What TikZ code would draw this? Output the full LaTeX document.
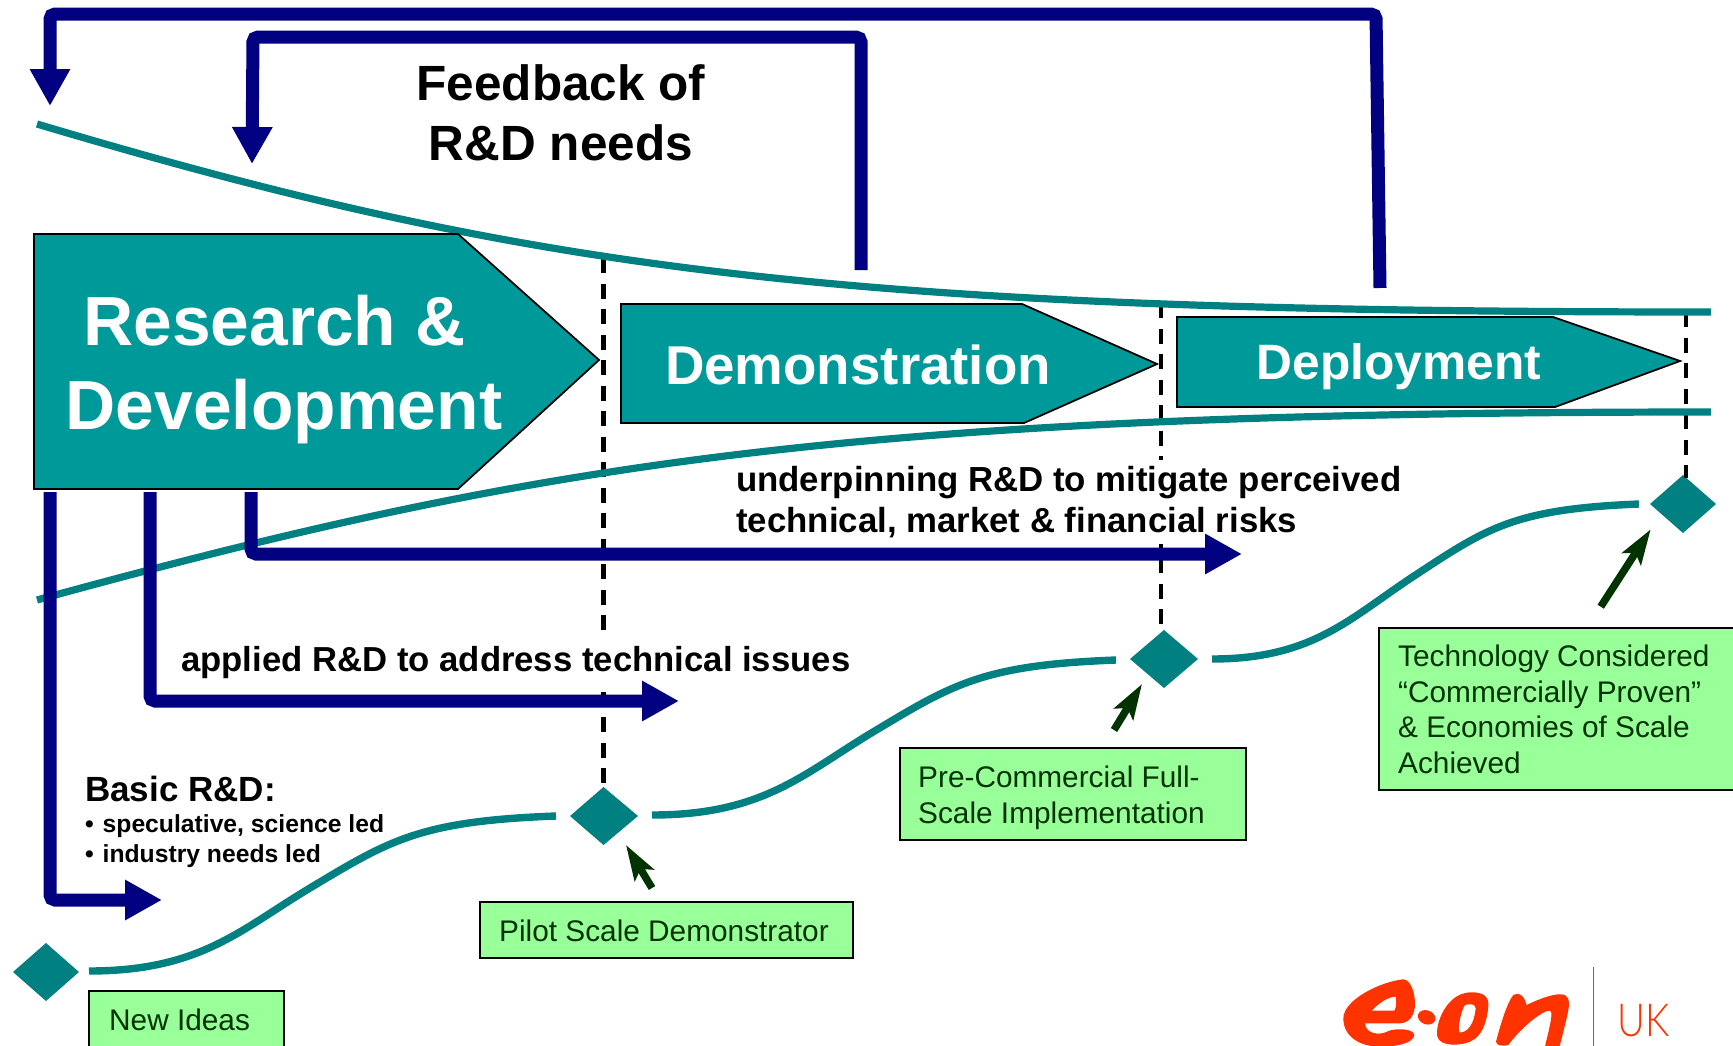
\documentclass[tikz,border=0pt]{standalone}
\usepackage{fontspec}
\usepackage{graphicx}
\setmainfont{Liberation Sans}
\newfontfamily\ukfont[UprightFont={* Light}]{Lato}
\usetikzlibrary{arrows.meta}
\definecolor{bluearrow}{HTML}{000080}
\definecolor{tealline}{HTML}{008080}
\definecolor{tealfill}{HTML}{009999}
\definecolor{boxgreen}{HTML}{99FF99}
\definecolor{darkgreen}{HTML}{003300}
\definecolor{eonred}{HTML}{FF3300}
\tikzset{
 bluepath/.style={draw=bluearrow,line width=13pt,rounded corners=5pt,-{Triangle[length=37pt,width=38pt]}},
 funnel/.style={draw=tealline,line width=7.2pt},
 scurve/.style={draw=tealline,line width=7.4pt},
 stagedash/.style={draw=black,line width=4.2pt,dash pattern=on 15pt off 10.5pt},
 stagebox/.style={draw=black,line width=1.8pt,fill=tealfill},
 milestone/.style={fill=tealline},
 pointer/.style={draw=darkgreen,line width=7.5pt,-{Stealth[length=35pt,width=22pt,inset=7pt]}},
 greenbox/.style={draw=black,line width=1.8pt,fill=boxgreen},
 boxtext/.style={anchor=west,inner sep=0pt,align=left,text=darkgreen,font=\fontsize{29.8}{35.6}\selectfont},
 stagetext/.style={inner sep=0pt,align=center,text=white,font=\bfseries},
 blacktext/.style={inner sep=0pt,align=left,text=black,font=\bfseries},
}
\begin{document}
\begin{tikzpicture}[x=1pt,y=-1pt]
\clip (0,0) rectangle (1733,1045);
\fill[white] (0,0) rectangle (1733,1045);
% named ends
\coordinate (fbAstart) at (1380,288);
\coordinate (fbAtip) at (50,106);
\coordinate (fbBstart) at (861,270);
\coordinate (fbBtip) at (252,164);
\coordinate (rdA) at (50,492);
\coordinate (rdAtip) at (162,900);
\coordinate (rdB) at (150,492);
\coordinate (rdBtip) at (679,701);
\coordinate (rdC) at (251,492);
\coordinate (rdCtip) at (1242,554);
\coordinate (upT) at (37,124);
\coordinate (upE) at (1711,312);
\coordinate (loT) at (37,600);
\coordinate (loE) at (1711,412);
\coordinate (d1t) at (603.5,258);
\coordinate (d2t) at (1161,303);
\coordinate (d3t) at (1686,312);
% milestones
\path[milestone] (13,972) -- (46,943) -- (79,972) -- (46,1001) -- cycle;
\path[milestone] (570,816) -- (603.5,787) -- (638,816) -- (603.5,845) -- cycle;
\path[milestone] (1130,659) -- (1164,630) -- (1198,659) -- (1164,688) -- cycle;
\path[milestone] (1650,504) -- (1683,475) -- (1716,504) -- (1683,533) -- cycle;
\coordinate (d1) at (603.5,787);
\coordinate (d2) at (1161,630);
\coordinate (d3) at (1686,478);
% dashed
\draw[stagedash] (d1t) -- (d1);
\draw[stagedash] (d2t) -- (d2);
\draw[stagedash] (d3t) -- (d3);
% funnel
\draw[funnel] (upT) .. controls (540,274) and (850,312) .. (upE);
\draw[funnel] (loT) .. controls (540,462) and (850,412) .. (loE);
% stage arrows
\draw[stagebox] (34,234) -- (458,234) -- (599,360) -- (458,489) -- (34,489) -- cycle;
\draw[stagebox] (621,304) -- (1022,304) -- (1157,364) -- (1024,423) -- (621,423) -- cycle;
\draw[stagebox] (1177,317) -- (1553,317) -- (1680,361) -- (1555,407) -- (1177,407) -- cycle;
\node[stagetext,font=\bfseries\fontsize{69.5}{84}\selectfont] (rdtext) at (284,370) {Research \&\rule{19pt}{0pt}\\Development};
\node[stagetext,font=\bfseries\fontsize{54.7}{60}\selectfont] (demotext) at (858,365) {Demonstration};
\node[stagetext,font=\bfseries\fontsize{49.7}{60}\selectfont] (deptext) at (1399,367) {Deployment};
% s curves
\draw[scurve] (89,971) .. controls (200,971) and (240,930) .. (310,888) .. controls (390,840) and (420,821) .. (556,816);
\draw[scurve] (652,815) .. controls (763,815) and (803,774) .. (873,732) .. controls (953,684) and (983,665) .. (1116,660);
\draw[scurve] (1212,659) .. controls (1313,659) and (1350,618) .. (1414,576) .. controls (1487,528) and (1514,509) .. (1639,504);
% these two texts lie on white boxes over the dashed lines
\node[blacktext,anchor=west,fill=white,inner ysep=6pt,font=\bfseries\fontsize{34.8}{41}\selectfont] (under) at (736,502) {underpinning R\&D to mitigate perceived\\technical, market \& financial risks};
\node[blacktext,anchor=west,fill=white,inner ysep=12pt,font=\bfseries\fontsize{34.7}{41}\selectfont] (applied) at (181,663) {applied R\&D to address technical issues};
% blue arrows
\draw[bluepath] (fbAstart) -- (1376,14) -- (50,14) -- (fbAtip);
\draw[bluepath] (fbBstart) -- (861,37) -- (253,37) -- (fbBtip);
\draw[bluepath] (rdA) -- (50,900) -- (rdAtip);
\draw[bluepath] (rdB) -- (150,701) -- (rdBtip);
\draw[bluepath] (rdC) -- (251,554) -- (rdCtip);
% pointers
\coordinate (p1s) at (652,888); \coordinate (p1t) at (626,845);
\coordinate (p2s) at (1114,730); \coordinate (p2t) at (1142,684);
\coordinate (p3s) at (1600.7,606.7); \coordinate (p3t) at (1650.7,529.3);
\draw[pointer] (p1s) -- (p1t);
\draw[pointer] (p2s) -- (p2t);
\draw[pointer] (p3s) -- (p3t);
% green boxes
\draw[greenbox] (89,991) rectangle (284,1070);
\node[boxtext] (newideas) at (109,1020) {New Ideas};
\draw[greenbox] (480,902) rectangle (853,958);
\node[boxtext] (pilot) at (499,931) {Pilot Scale Demonstrator};
\draw[greenbox] (900,748) rectangle (1246,840);
\node[boxtext] (precom) at (918,798) {Pre-Commercial Full-\\Scale Implementation};
\draw[greenbox] (1379,628) rectangle (1750,790);
\node[boxtext] (tech) at (1398,709.5) {Technology Considered\\“Commercially Proven”\\\& Economies of Scale\\Achieved};
% black text
\node[blacktext,align=center,font=\bfseries\fontsize{49.5}{60}\selectfont] (fb) at (561,113) {Feedback of\\R\&D needs};
\node[blacktext,anchor=west,font=\bfseries\fontsize{35}{41}\selectfont] (basic) at (85,789) {Basic R\&D:};
\node[blacktext,anchor=west,font=\bfseries\fontsize{24.7}{29.5}\selectfont] (bul) at (85,841) {•\kern2pt\ speculative, science led\\•\kern2pt\ industry needs led};
% logo
\begin{scope}[xshift=1300pt,yshift=-940pt,x=0.3333pt,y=-0.3333pt]
\fill[eonred,even odd rule] (310,118) .. controls (335,120) and (345,165) .. (345,190) .. controls (345,225) and (330,248) .. (300,250) -- (195,250) .. controls (197,280) and (235,290) .. (268,272) .. controls (290,265) and (340,265) .. (343,285) .. controls (340,310) and (290,320) .. (240,320) .. controls (180,320) and (130,290) .. (130,235) .. controls (130,180) and (240,125) .. (310,118) -- cycle
 (215,212) .. controls (235,190) and (265,170) .. (287,170) .. controls (290,185) and (290,200) .. (283,212) -- cycle;
\fill[eonred,rotate around={-20:(380,232)}] (380,232) ellipse [x radius=27,y radius=21];
\fill[eonred,even odd rule] (510,157) .. controls (555,155) and (568,175) .. (565,200) .. controls (560,250) and (545,290) .. (510,305) .. controls (480,318) and (420,320) .. (412,290) .. controls (405,250) and (440,160) .. (510,157) -- cycle
 (495,195) .. controls (510,190) and (527,192) .. (527,205) .. controls (525,230) and (515,275) .. (480,278) .. controls (470,270) and (485,205) .. (495,195) -- cycle;
\fill[eonred] (588,305) .. controls (600,260) and (620,190) .. (640,165) .. controls (655,155) and (672,165) .. (680,195) .. controls (710,180) and (770,155) .. (795,165) .. controls (812,175) and (808,200) .. (800,235) .. controls (792,265) and (785,300) .. (778,320) -- (735,320) .. controls (745,275) and (760,225) .. (752,213) .. controls (735,205) and (665,260) .. (625,315) .. controls (600,320) and (590,315) .. (588,305) -- cycle;
\draw[eonred,line width=1.4pt] (881,82) -- (881,330);
\node[anchor=base west,inner sep=0pt,text=eonred,font=\ukfont\fontsize{45.5}{50}\selectfont] (uk) at (953,288) {\scalebox{0.84}[1]{UK}};
\end{scope}
\end{tikzpicture}
\end{document}
